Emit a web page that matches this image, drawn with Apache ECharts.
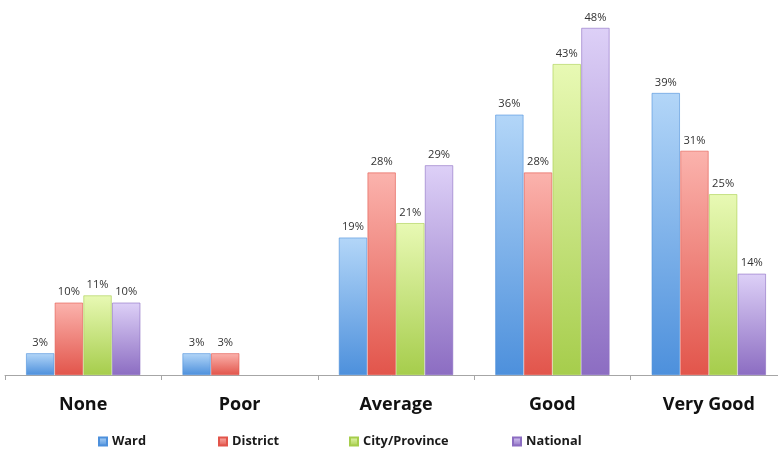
<!DOCTYPE html>
<html>
<head>
<meta charset="utf-8">
<script src="https://cdn.jsdelivr.net/npm/echarts@6/dist/echarts.min.js"></script>
<style>
  html, body { margin: 0; padding: 0; background: #fff; }
  #chart { width: 778px; height: 454px; }
</style>
</head>
<body>
<div id="chart"></div>
<script>
// Ratings by level of government
const categories = ['None', 'Poor', 'Average', 'Good', 'Very Good'];
const seriesNames = ['Ward', 'District', 'City/Province', 'National'];
const ward = [3, 3, 19, 36, 39];
const district = [10, 3, 28, 28, 31];
const cityProvince = [11, null, 21, 43, 25];
const national = [10, null, 29, 48, 14];

// top / bottom shades of each series' glossy fill
const palette = [
  ['#b3d6f8', '#4d90dc'],
  ['#fbb3ad', '#e2554b'],
  ['#e8f9b4', '#a6cd4c'],
  ['#ddd0f7', '#8c6dc2']
];

const values = [ward, district, cityProvince, national];
const legendLeft = [98, 218, 349, 512];

function fill(i) {
  return new echarts.graphic.LinearGradient(0, 0, 0, 1, [
    { offset: 0, color: palette[i][0] },
    { offset: 1, color: palette[i][1] }
  ]);
}

const chart = echarts.init(document.getElementById('chart'), null, { renderer: 'canvas' });

chart.setOption({
  backgroundColor: '#ffffff',
  animation: false,
  grid: { left: 5, top: 13.5, width: 782, bottom: 79, containLabel: false, outerBoundsMode: 'none' },
  legend: seriesNames.map((name, i) => ({
    data: [name],
    left: legendLeft[i],
    top: 435,
    padding: 0,
    itemWidth: 8,
    itemHeight: 8,
    itemGap: 0,
    icon: 'rect',
    textStyle: { fontFamily: 'Open Sans', fontWeight: 'bold', fontSize: 12.8, color: '#1a1a1a' }
  })),
  xAxis: {
    type: 'category',
    data: categories,
    axisLine: { lineStyle: { color: '#a6a6a6', width: 1 } },
    axisTick: { show: true, length: 5, lineStyle: { color: '#a6a6a6' } },
    axisLabel: { fontFamily: 'Open Sans', fontWeight: 'bold', fontSize: 18, color: '#111', margin: 21 }
  },
  yAxis: {
    type: 'value',
    min: 0,
    max: 50,
    show: false,
    splitLine: { show: false }
  },
  series: values.map((data, i) => ({
    name: seriesNames[i],
    type: 'bar',
    data: data,
    barGap: '2%',
    barCategoryGap: '27%',
    itemStyle: { color: fill(i), borderColor: palette[i][1], borderWidth: 0.6 },
    label: {
      show: true,
      position: 'top',
      distance: 5,
      formatter: p => p.value + '%',
      fontFamily: 'Open Sans',
      fontSize: 11.2,
      color: '#333'
    }
  }))
});
</script>
</body>
</html>
